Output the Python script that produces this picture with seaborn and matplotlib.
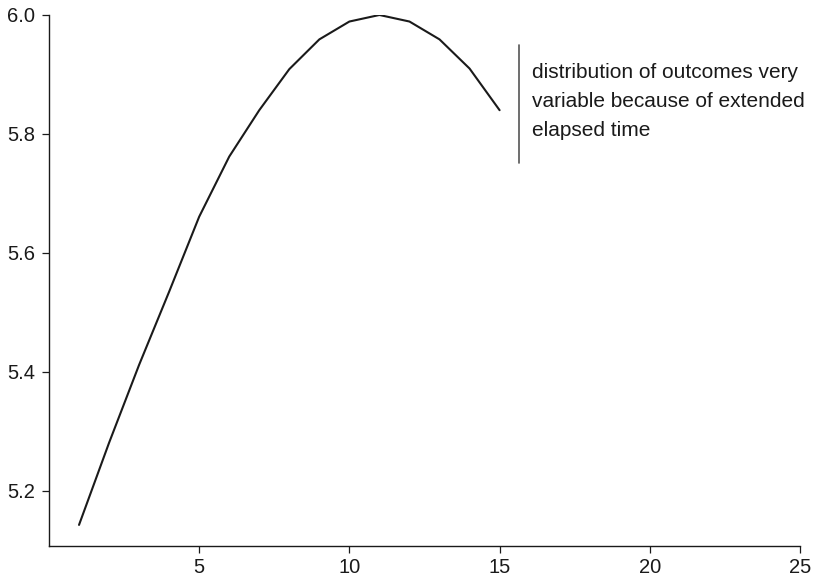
import matplotlib
matplotlib.use("Agg")
import matplotlib.pyplot as plt
import seaborn as sns
import pandas as pd

years = [1, 2, 3, 4, 5, 6, 7, 8, 9, 10, 11, 12, 13, 14, 15]
values = [5.143, 5.281, 5.412, 5.535, 5.661, 5.762, 5.840, 5.909, 5.959, 5.989,
          6.0, 5.989, 5.959, 5.910, 5.840]
x_ticks = [5, 10, 15, 20, 25]
y_ticks = [5.2, 5.4, 5.6, 5.8, 6.0]
note = "distribution of outcomes very\nvariable because of extended\nelapsed time"

sns.set_theme(style="ticks")
plt.rcParams['font.family'] = ['Liberation Sans', 'DejaVu Sans']

df = pd.DataFrame({"x": years, "y": values})

fig = plt.figure(figsize=(8.15, 5.83), dpi=100)
ax = fig.add_axes([0.0601, 0.0635, 0.9215, 0.9108])
sns.lineplot(data=df, x="x", y="y", ax=ax, color="#1a1a1a", linewidth=1.5)

ax.set_xlim(0, 25)
ax.set_ylim(5.1076, 6.0)
ax.set_xticks(x_ticks)
ax.set_xticklabels([str(t) for t in x_ticks])
ax.set_yticks(y_ticks)
ax.set_yticklabels([f"{t:.1f}" for t in y_ticks])
ax.set_xlabel("")
ax.set_ylabel("")
for s in ["top", "right"]:
    ax.spines[s].set_visible(False)
for s in ["left", "bottom"]:
    ax.spines[s].set_color("#1a1a1a")
    ax.spines[s].set_linewidth(1.0)
ax.tick_params(axis="both", direction="out", length=5, width=0.9,
               color="#1a1a1a", labelcolor="#1a1a1a", labelsize=14.5)
ax.tick_params(axis="x", pad=4)
ax.tick_params(axis="y", pad=5)

ax.plot([15.66, 15.66], [5.751, 5.950], color="#555555", linewidth=1.2, clip_on=False)
ax.text(16.07, 5.855, note, fontsize=15, color="#1a1a1a", va="center", ha="left",
        linespacing=1.68)

fig.savefig("out.png", dpi=100)
